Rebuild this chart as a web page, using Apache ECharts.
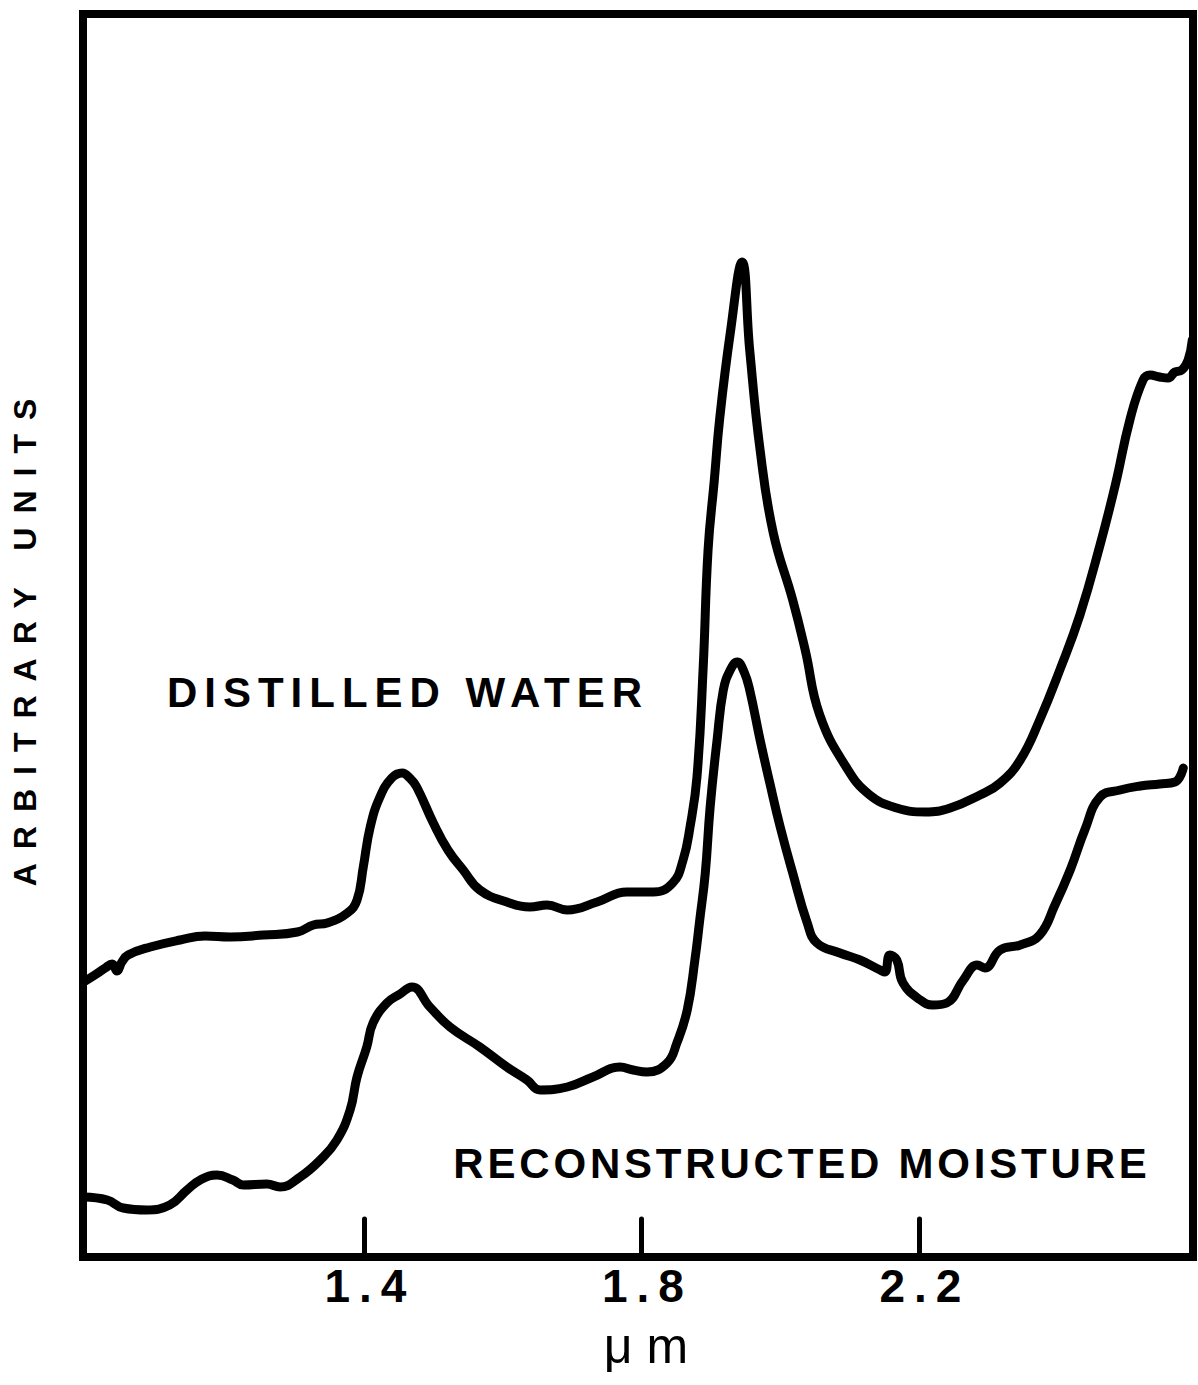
<!DOCTYPE html>
<html><head><meta charset="utf-8">
<script src="https://cdn.jsdelivr.net/npm/echarts@6/dist/echarts.min.js"></script>
<style>html,body{margin:0;padding:0;background:#fff}#c{width:1198px;height:1385px}</style>
</head><body><div id="c"></div>
<script>
// ---- data (wavelength in µm, signal in arbitrary units) ----
const xTickValues = [1.4, 1.8, 2.2];

const distilledWl = [0.996,1.012,1.027,1.037,1.044,1.051,1.060,1.092,1.135,1.171,1.207,1.255,1.304,1.327,1.347,1.376,1.390,1.399,1.409,1.423,1.440,1.455,1.466,1.476,1.500,1.521,1.543,1.567,1.606,1.639,1.664,1.693,1.736,1.779,1.817,1.845,1.860,1.870,1.880,1.889,1.896,1.905,1.913,1.928,1.945,1.956,1.971,1.990,2.018,2.036,2.057,2.096,2.129,2.168,2.209,2.245,2.288,2.317,2.346,2.374,2.403,2.432,2.461,2.483,2.504,2.523,2.533,2.547,2.559,2.569,2.579,2.588,2.594];
const distilledVal = [27.5,28.2,28.9,29.3,28.6,29.5,30.2,31.0,31.7,32.1,32.0,32.2,32.5,33.2,33.4,34.4,35.7,39.0,43.0,46.0,47.9,48.4,47.9,47.0,43.4,40.7,38.7,36.7,35.5,35.0,35.2,34.7,35.5,36.5,36.5,37.4,39.7,43.0,48.0,59.0,70.7,77.7,84.0,92.4,99.5,90.7,80.7,72.4,65.7,60.7,54.2,48.9,46.2,44.9,44.5,44.9,46.2,47.4,49.7,53.7,58.7,64.2,71.2,77.2,83.7,87.7,88.2,88.0,87.9,88.5,88.7,89.7,91.7];

const moistureWl = [0.996,1.030,1.053,1.087,1.120,1.145,1.164,1.188,1.211,1.226,1.260,1.279,1.308,1.337,1.361,1.380,1.390,1.404,1.413,1.433,1.452,1.469,1.495,1.524,1.567,1.606,1.635,1.654,1.693,1.730,1.769,1.788,1.808,1.837,1.851,1.866,1.877,1.884,1.892,1.899,1.909,1.918,1.928,1.938,1.948,1.956,1.971,1.985,2.000,2.018,2.039,2.053,2.086,2.115,2.144,2.151,2.158,2.168,2.177,2.202,2.220,2.240,2.264,2.284,2.295,2.317,2.346,2.374,2.396,2.418,2.439,2.461,2.490,2.519,2.547,2.569,2.581];
const moistureVal = [6.0,5.7,4.9,4.7,5.2,6.7,7.7,8.2,7.7,7.2,7.3,7.0,8.0,9.7,11.7,14.7,18.0,21.0,23.4,25.4,26.3,27.0,25.0,23.0,21.0,19.0,17.7,16.7,17.0,18.0,19.0,18.7,18.5,19.4,21.4,24.7,29.7,33.7,38.4,45.0,51.7,56.7,58.7,59.5,58.5,56.7,51.7,47.4,43.0,38.4,33.4,31.4,30.4,29.7,28.7,28.5,30.2,29.7,27.4,25.7,25.2,25.4,27.7,29.2,28.9,30.7,31.2,32.2,35.2,38.7,42.7,46.0,46.7,47.1,47.3,47.5,48.9];

const seriesNames = ['DISTILLED WATER', 'RECONSTRUCTED MOISTURE'];
const xAxisTitle = 'μm';
const yAxisTitle = 'ARBITRARY UNITS';

// ---- chart ----
const FONT = '"Liberation Sans", Arial, sans-serif';
const zip = (a, b) => a.map((v, i) => [v, b[i]]);
const chart = echarts.init(document.getElementById('c'), null, {renderer: 'svg', width: 1198, height: 1385});

const lineStyle = {color: '#000', width: 9, cap: 'round', join: 'round'};

chart.setOption({
  animation: false,
  backgroundColor: '#fff',
  grid: {left: 83, right: 5, top: 14, bottom: 128, show: true, borderWidth: 8, borderColor: '#000', backgroundColor: 'transparent'},
  xAxis: {
    type: 'value', min: 0.995, max: 2.595,
    axisLine: {show: false},
    splitLine: {show: false},
    axisTick: {show: true, inside: true, length: 38, customValues: xTickValues, lineStyle: {color: '#000', width: 5, cap: 'round'}},
    axisLabel: {show: true, customValues: xTickValues, formatter: v => v.toFixed(1), color: '#000', fontSize: 46, fontWeight: 'bold', fontFamily: FONT, margin: 6, padding: [0, 0, 0, 12]},
    name: xAxisTitle, nameLocation: 'middle', nameGap: 64,
    nameTextStyle: {color: '#000', fontSize: 50, fontFamily: FONT, padding: [0, 0, 0, 30]}
  },
  yAxis: {
    type: 'value', min: 0, max: 124.3,
    axisLine: {show: false}, axisTick: {show: false}, axisLabel: {show: false}, splitLine: {show: false},
    name: yAxisTitle, nameLocation: 'middle', nameGap: 42, nameRotate: 90,
    nameTextStyle: {color: '#000', fontSize: 32, fontWeight: 'bold', fontFamily: FONT}
  },
  series: [
    {name: seriesNames[0], type: 'line', data: zip(distilledWl, distilledVal), showSymbol: false, smooth: 0.45, lineStyle, silent: true, z: 3},
    {name: seriesNames[1], type: 'line', data: zip(moistureWl, moistureVal), showSymbol: false, smooth: 0.45, lineStyle, silent: true, z: 3}
  ],
  graphic: [
    {type: 'text', x: 408, y: 692, silent: true, style: {text: seriesNames[0], fill: '#000', font: 'bold 42px ' + FONT, textAlign: 'center', textVerticalAlign: 'middle'}},
    {type: 'text', x: 802, y: 1163, silent: true, style: {text: seriesNames[1], fill: '#000', font: 'bold 42px ' + FONT, textAlign: 'center', textVerticalAlign: 'middle'}}
  ]
});

const spacing = {'DISTILLED WATER': 7, 'RECONSTRUCTED MOISTURE': 3.8, 'ARBITRARY UNITS': 14, '1.4': 9, '1.8': 9, '2.2': 9, 'μm': 14};
function applySpacing() {
  document.querySelectorAll('#c text').forEach(t => {
    const s = t.textContent;
    if (spacing[s] != null && t.style.letterSpacing !== spacing[s] + 'px') t.style.letterSpacing = spacing[s] + 'px';
  });
}
chart.on('finished', applySpacing);
applySpacing();
setTimeout(applySpacing, 30);
setTimeout(applySpacing, 200);
new MutationObserver(applySpacing).observe(document.getElementById('c'), {subtree: true, childList: true, attributes: true, characterData: true});
</script></body></html>
